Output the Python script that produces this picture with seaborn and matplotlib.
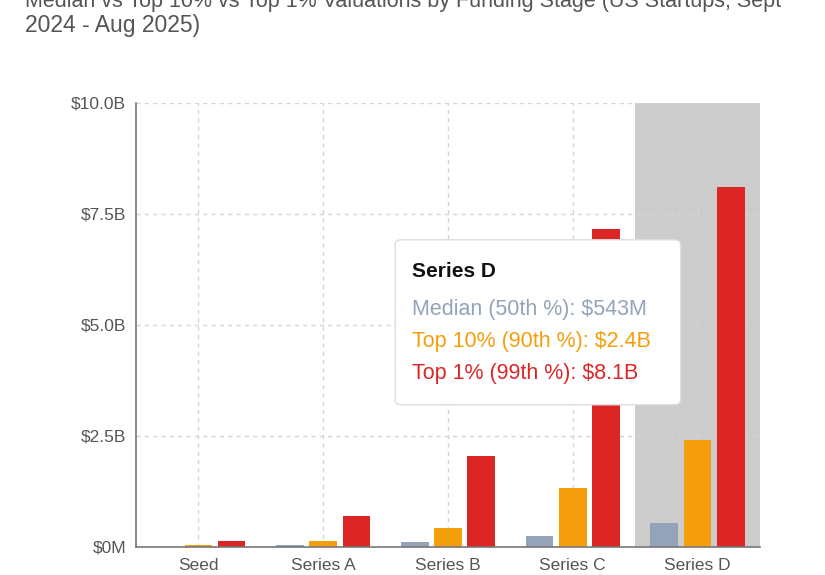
import matplotlib
matplotlib.use("Agg")
import matplotlib.pyplot as plt
from matplotlib.patches import FancyBboxPatch
from matplotlib.ticker import FuncFormatter
import seaborn as sns
import pandas as pd

# values in billions of USD
stages = ["Seed", "Series A", "Series B", "Series C", "Series D"]
median_vals = [0.01, 0.04, 0.11, 0.25, 0.543]
top10_vals = [0.04, 0.14, 0.43, 1.33, 2.4]
top1_vals = [0.14, 0.70, 2.05, 7.16, 8.1]
series_names = ["Median (50th %)", "Top 10% (90th %)", "Top 1% (99th %)"]
colors = ["#94a3b8", "#f59e0b", "#dc2626"]
y_ticks = [0, 2.5, 5.0, 7.5, 10.0]

df = pd.DataFrame({
    "Stage": stages * 3,
    "Series": [series_names[0]] * 5 + [series_names[1]] * 5 + [series_names[2]] * 5,
    "Value": median_vals + top10_vals + top1_vals,
})

sns.set_theme(style="white")
plt.rcParams["font.family"] = ["Liberation Sans", "DejaVu Sans"]

fig = plt.figure(figsize=(8.25, 5.75), dpi=100)
ax = fig.add_axes([0.1648, 0.0487, 0.7564, 0.7722])

# highlighted category (hover band)
ax.axvspan(3.5, 4.5, color="#cccccc", zorder=0, lw=0)

sns.barplot(data=df, x="Stage", y="Value", hue="Series", palette=colors,
            width=0.8, gap=0.17, legend=False, ax=ax, zorder=2, saturation=1,
            linewidth=0, edgecolor="none")

ax.set_xlim(-0.5, 4.5)
ax.set_ylim(0, 10)
ax.set_yticks(y_ticks)
ax.yaxis.set_major_formatter(FuncFormatter(
    lambda v, p: "$0M" if v == 0 else f"${v:.1f}B"))

grid_kw = dict(color="#d4d4d4", linestyle=(0, (3, 3)), linewidth=1, zorder=1)
for y in y_ticks[1:]:
    ax.axhline(y, **grid_kw)
for x in range(len(stages)):
    ax.axvline(x, **grid_kw)
ax.axvline(4.5, **grid_kw)

for s in ["top", "right"]:
    ax.spines[s].set_visible(False)
for s in ["left", "bottom"]:
    ax.spines[s].set_color("#777777")
    ax.spines[s].set_linewidth(1.2)

ax.tick_params(axis="both", colors="#666666", labelsize=12.5, length=5,
               width=1, direction="out", labelcolor="#555555")
ax.tick_params(axis="y", pad=2)
ax.tick_params(axis="x", pad=3)
ax.set_xlabel("")
ax.set_ylabel("")

# title (top line partly cut off, as in the reference)
fig.text(0.03, 0.998, "Median vs Top 10% vs Top 1% Valuations by Funding Stage (US Startups, Sept",
         fontsize=15.5, color="#555555", va="center", ha="left")
fig.text(0.03, 0.955, "2024 - Aug 2025)", fontsize=16.5, color="#555555",
         va="center", ha="left")

# tooltip
box = FancyBboxPatch((0.479, 0.296), 0.346, 0.287, transform=fig.transFigure,
                     boxstyle="round,pad=0,rounding_size=0.008",
                     facecolor="white", edgecolor="#dddddd", linewidth=1, zorder=5)
fig.patches.append(box)
fig.text(0.499, 0.527, "Series D", fontsize=15, fontweight="bold", color="#111111",
         va="center", ha="left", zorder=6)
tip_vals = ["$543M", "$2.4B", "$8.1B"]
for i, (name, c, v) in enumerate(zip(series_names, colors, tip_vals)):
    fig.text(0.499, 0.462 - i * 0.056, f"{name}: {v}", fontsize=15.5, color=c,
             va="center", ha="left", zorder=6)

fig.savefig("out.png", dpi=100)
